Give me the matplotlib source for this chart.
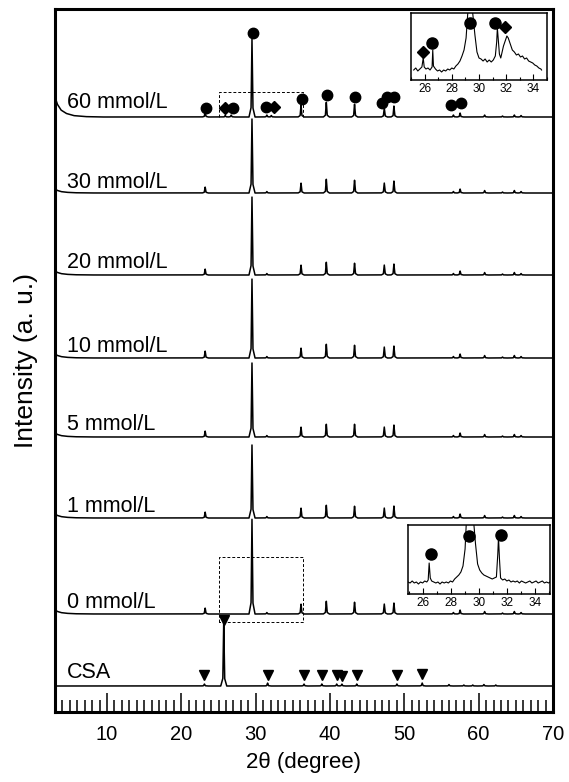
import matplotlib
matplotlib.use("Agg")
import matplotlib.pyplot as plt
import numpy as np

plt.rcParams['font.family'] = ['Liberation Sans', 'DejaVu Sans']

# ---- data (heights in pixel-like units) ----
samples = ['60 mmol/L', '30 mmol/L', '20 mmol/L', '10 mmol/L', '5 mmol/L', '1 mmol/L', '0 mmol/L']
baselines = [595, 519, 437, 354, 275, 194, 98]
label_y = [609, 530, 449, 365, 287, 205, 109]
curl = [20, 4, 4, 4, 4, 4, 4]

calcite_pos = [23.2, 29.5, 31.5, 36.1, 39.5, 43.3, 47.3, 48.6, 56.6, 57.5, 60.8, 63.2, 64.8, 65.7]
calcite_h = [
    [5, 79, 2, 12, 15, 13, 9, 11, 2, 4, 2, 1, 2, 1.5],
    [6, 75, 1.5, 10, 14, 13, 10, 12, 1.5, 4, 2.5, 1, 2.5, 1.5],
    [6, 79, 1.5, 10, 13, 12, 10, 11, 1.5, 4, 2.5, 1, 2.5, 1.5],
    [7, 80, 1.5, 10, 14, 13, 11, 12, 1.5, 4, 2.5, 1, 2.5, 1.5],
    [6, 75, 1.5, 10, 13, 13, 10, 12, 1.5, 4, 2.5, 1, 2.5, 1.5],
    [6, 74, 1.5, 10, 13, 12, 10, 12, 1.5, 4, 2.5, 1, 2.5, 1.5],
    [6, 96, 1.5, 10, 13, 12, 10, 11, 1.5, 4, 2.5, 1, 2.5, 1.5],
]
# extra weak vaterite bumps in 60 mmol/L
vat_pos = [25.9, 26.7, 32.1]
vat_h = [1.5, 2, 1.5]

csa_base = 26
csa_label_y = 39
csa_pos = [23.1, 25.7, 31.6, 36.5, 38.9, 40.9, 41.6, 43.6, 49.0, 52.4, 56.0, 58.0, 59.2, 60.7, 62.3]
csa_h = [2, 64, 3, 2, 2, 2, 2, 2, 2, 3, 1.5, 1, 1, 1.5, 1]
tri_pos = [23.1, 25.7, 31.6, 36.5, 38.9, 40.9, 41.6, 43.6, 49.0, 52.4]
tri_h = [11, 66, 11, 11, 11, 11, 10, 11, 11, 12]

circ60_pos = [23.3, 26.9, 29.6, 31.4, 36.2, 39.6, 43.3, 47.0, 47.6, 48.6, 56.3, 57.6]
circ60_h = [9, 9, 84, 10, 18, 22, 20, 14, 20, 20, 12, 14]
diam60_pos = [25.9, 32.5]
diam60_h = [9, 10]

# insets (heights in pixels above inset bottom)
in1_x = [25.2, 25.35, 25.5, 25.65, 25.8, 25.9, 25.97, 26.1, 26.25, 26.4, 26.55, 26.6, 26.65, 26.8,
         26.95, 27.1, 27.25, 27.4, 27.55, 27.7, 27.85, 28.0, 28.15, 28.3, 28.45, 28.6, 28.75, 28.9,
         29.05, 29.2, 29.5, 29.7, 29.85, 30.0, 30.15, 30.3, 30.45, 30.6, 30.75, 30.9, 31.05, 31.2,
         31.3, 31.35, 31.42, 31.5, 31.6, 31.7, 31.8, 31.95, 32.05, 32.15, 32.3, 32.45, 32.6, 32.75,
         32.9, 33.05, 33.2, 33.35, 33.5, 33.65, 33.8, 33.95, 34.1, 34.25, 34.4, 34.55, 34.6]
in1_y = [10, 12, 9, 11, 13, 22, 13, 11, 12, 10, 13, 30, 14, 11,
         9, 10, 8, 10, 9, 11, 10, 12, 11, 14, 16, 19, 24, 30,
         42, 72, 72, 45, 28, 22, 21, 19, 21, 18, 20, 18, 20, 24,
         38, 52, 40, 26, 22, 28, 34, 40, 44, 42, 36, 30, 28, 25,
         26, 23, 24, 21, 22, 19, 18, 17, 15, 14, 12, 11, 10]
in1_circ_x = [26.56, 29.35, 31.2]
in1_circ_y = [37, 57, 57]
in1_diam_x = [25.9, 31.9]
in1_diam_y = [28, 53]

in2_x = [24.9, 25.05, 25.2, 25.35, 25.5, 25.65, 25.8, 25.95, 26.1, 26.25, 26.35, 26.42, 26.5, 26.6,
         26.75, 26.9, 27.05, 27.2, 27.35, 27.5, 27.65, 27.8, 27.95, 28.1, 28.25, 28.4, 28.55, 28.7,
         28.85, 29.0, 29.1, 29.6, 29.75, 29.9, 30.05, 30.2, 30.35, 30.5, 30.65, 30.8, 30.95, 31.1,
         31.25, 31.35, 31.4, 31.47, 31.55, 31.7, 31.85, 32.0, 32.15, 32.3, 32.45, 32.6, 32.75, 32.9,
         33.05, 33.2, 33.35, 33.5, 33.65, 33.8, 33.95, 34.1, 34.25, 34.4, 34.55, 34.7, 34.85, 35.0, 35.1]
in2_y = [12, 11, 13, 11, 12, 10, 12, 11, 13, 12, 14, 31, 16, 13,
         12, 11, 12, 10, 12, 11, 12, 11, 13, 12, 15, 17, 19, 22,
         28, 45, 75, 75, 50, 30, 24, 21, 19, 18, 17, 16, 15, 16,
         17, 40, 57, 35, 16, 14, 15, 13, 14, 12, 13, 12, 13, 11,
         13, 12, 11, 12, 13, 11, 12, 13, 11, 12, 13, 11, 12, 11, 12]
in2_circ_x = [26.55, 29.3, 31.55]
in2_circ_y = [40, 58, 59]

# peak outline: relative offsets and fractions
shape_dx = [-0.4, -0.12, 0, 0.12, 0.4]
shape_f = [0, 0.12, 1, 0.12, 0]

x = np.linspace(3, 70, 8000)


def pattern(base, pos, hts, lift):
    y = np.full_like(x, float(base))
    y += np.interp(x, [3, 3.3, 3.8, 4.5, 5.5, 7, 9], np.array([1, .65, .35, .18, .07, .02, 0]) * lift)
    for p, h in zip(pos, hts):
        y += np.interp(x, np.array(shape_dx) + p, np.array(shape_f) * h, left=0, right=0)
    return y


fig = plt.figure(figsize=(5.69, 7.82), dpi=100)
ax = fig.add_axes([55/569, 70/782, 498/569, 703/782])

for i, s in enumerate(samples):
    pos = list(calcite_pos)
    hts = list(calcite_h[i])
    if i == 0:
        pos += vat_pos
        hts += vat_h
    ax.plot(x, pattern(baselines[i], pos, hts, curl[i]), color='black', lw=1.1)
    ax.text(4.6, label_y[i], s, fontsize=15.5, va='center', ha='left')

ax.plot(x, pattern(csa_base, csa_pos, csa_h, 0), color='black', lw=1.1)
ax.text(4.6, csa_label_y, 'CSA', fontsize=15.5, va='center', ha='left')

ax.plot(tri_pos, np.array(tri_h) + csa_base, 'kv', ms=7, ls='none')
ax.plot(circ60_pos, np.array(circ60_h) + baselines[0], 'ko', ms=7.5, ls='none')
ax.plot(diam60_pos, np.array(diam60_h) + baselines[0], 'kD', ms=6, ls='none')

# dashed boxes
ax.plot([25.0, 25.0, 36.3, 36.3], [595, 620, 620, 595], 'k--', lw=0.7, dashes=(3, 2))
ax.plot([25.0, 25.0, 36.3, 36.3, 25.0], [90, 155, 155, 90, 90], 'k--', lw=0.7, dashes=(3, 2))

ax.set_xlim(3, 70)
ax.set_ylim(0, 703)
ax.set_yticks([])
ax.set_xticks([10, 20, 30, 40, 50, 60, 70])
ax.set_xticks(np.arange(4, 70, 1), minor=True)
ax.tick_params(axis='x', which='major', direction='in', length=14, width=1.1, labelsize=14.5, pad=9)
ax.tick_params(axis='x', which='minor', direction='in', length=8.5, width=1.1)
for sp in ax.spines.values():
    sp.set_linewidth(2.2)
ax.set_xlabel('2θ (degree)', fontsize=16, labelpad=6)
ax.set_ylabel('Intensity (a. u.)', fontsize=19)
ax.yaxis.set_label_coords(-0.035, 0.5)

# inset for 60 mmol/L
a1 = fig.add_axes([411/569, (782-80)/782, 136/569, 67/782])
a1.plot(in1_x, in1_y, color='black', lw=0.8)
a1.plot(in1_circ_x, in1_circ_y, 'ko', ms=8, ls='none')
a1.plot(in1_diam_x, in1_diam_y, 'kD', ms=6, ls='none')
a1.set_xlim(25.17, 34.6)
a1.set_ylim(0, 67)

# inset for 0 mmol/L
a2 = fig.add_axes([408/569, (782-594)/782, 142/569, 69/782])
a2.plot(in2_x, in2_y, color='black', lw=0.8)
a2.plot(in2_circ_x, in2_circ_y, 'ko', ms=8, ls='none')
a2.set_xlim(24.9, 35.1)
a2.set_ylim(0, 69)

for a in (a1, a2):
    a.set_yticks([])
    a.set_xticks([26, 28, 30, 32, 34])
    a.set_xticks([25, 27, 29, 31, 33, 35], minor=True)
    a.tick_params(axis='x', which='major', direction='in', length=4, width=0.8, labelsize=8.5, pad=2)
    a.tick_params(axis='x', which='minor', direction='in', length=2.5, width=0.8)
    for sp in a.spines.values():
        sp.set_linewidth(1.1)

fig.savefig('out.png', dpi=100)
